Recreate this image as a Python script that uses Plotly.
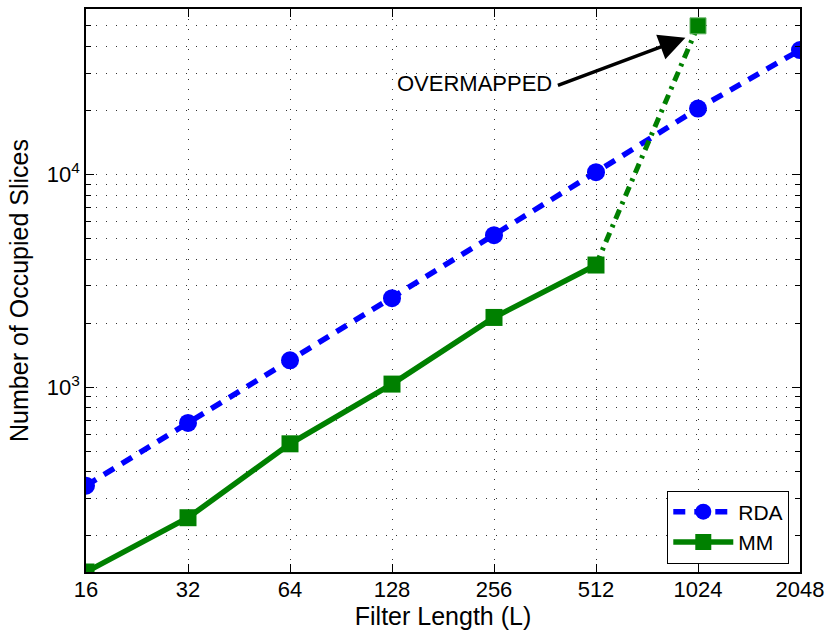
import plotly.graph_objects as go
import math

# ---- data ----
filter_len = [16, 32, 64, 128, 256, 512, 1024, 2048]
rda_slices = [344, 678, 1337, 2618, 5183, 10250, 20420, 38460]
mm_len = [16, 32, 64, 128, 256, 512]
mm_slices = [135, 243, 541, 1033, 2126, 3750]
mm_over_len = [512, 1024]
mm_over_slices = [3750, 50000]
x_ticks = [16, 32, 64, 128, 256, 512, 1024, 2048]
y_major = [1000, 10000]
y_major_text = ["10<sup>3</sup>", "10<sup>4</sup>"]
y_minor = [200, 300, 400, 500, 600, 700, 800, 900,
           2000, 3000, 4000, 5000, 6000, 7000, 8000, 9000,
           20000, 30000, 40000, 50000]

FONT = "Liberation Sans, Arial, Helvetica, sans-serif"
BLUE = "#0000FF"
GREEN = "#008000"

fig = go.Figure()

fig.add_trace(go.Scatter(
    x=filter_len, y=rda_slices, name="RDA", mode="lines+markers",
    line=dict(color=BLUE, width=5.5, dash="12px,9px"),
    marker=dict(symbol="circle", size=18, color=BLUE, line=dict(width=0)),
))
fig.add_trace(go.Scatter(
    x=mm_len, y=mm_slices, name="MM", mode="lines+markers",
    line=dict(color=GREEN, width=5.5),
    marker=dict(symbol="square", size=17, color=GREEN, line=dict(width=0)),
))
fig.add_trace(go.Scatter(
    x=mm_over_len, y=mm_over_slices, showlegend=False, mode="lines",
    line=dict(color=GREEN, width=5, dash="10px,6px,3px,6px"),
))
fig.add_trace(go.Scatter(
    x=mm_over_len[1:], y=mm_over_slices[1:], showlegend=False, mode="markers",
    marker=dict(symbol="square", size=16, color=GREEN,
                line=dict(width=1, color="#66b366")),
))

grid_dash = "1px,9px"
grid_col = "#333333"

fig.update_xaxes(
    type="log", range=[math.log10(16), math.log10(2048)],
    tickmode="array", tickvals=x_ticks, ticktext=[str(v) for v in x_ticks],
    ticks="inside", ticklen=8, tickwidth=1, tickcolor="black",
    showline=True, linecolor="black", linewidth=1.5, mirror="allticks",
    showgrid=True, gridcolor=grid_col, gridwidth=1, griddash=grid_dash,
    tickfont=dict(family=FONT, size=22, color="black"),
    title=dict(text="Filter Length (L)", font=dict(family=FONT, size=25, color="black"),
               standoff=6),
    ticklabelstandoff=-3,
    zeroline=False,
)
fig.update_yaxes(
    type="log", range=[math.log10(135), math.log10(60000)],
    tickmode="array", tickvals=y_major, ticktext=y_major_text,
    ticks="inside", ticklen=8, tickwidth=1, tickcolor="black",
    showline=True, linecolor="black", linewidth=1.5, mirror="allticks",
    showgrid=True, gridcolor=grid_col, gridwidth=1, griddash=grid_dash,
    minor=dict(tickmode="array", tickvals=y_minor, ticks="inside", ticklen=5,
               tickcolor="black", showgrid=True, gridcolor=grid_col,
               gridwidth=1, griddash=grid_dash),
    tickfont=dict(family=FONT, size=22, color="black"),
    title=dict(text="Number of Occupied Slices", font=dict(family=FONT, size=25, color="black"),
               standoff=11),
    zeroline=False,
)

# arrow
fig.add_annotation(
    x=math.log10(940), y=math.log10(43900), xref="x", yref="y",
    ax=-129, ay=48, axref="pixel", ayref="pixel",
    text="", showarrow=True, arrowhead=2, arrowsize=1.5, arrowwidth=3.5,
    arrowcolor="black",
)
fig.add_annotation(
    x=math.log10(224), y=math.log10(26700), xref="x", yref="y",
    text="OVERMAPPED", showarrow=False,
    font=dict(family=FONT, size=22, color="black"),
)

fig.update_layout(
    width=831, height=639,
    margin=dict(l=86, r=30, t=7, b=67),
    paper_bgcolor="white", plot_bgcolor="white",
    font=dict(family=FONT, color="black"),
    legend=dict(
        x=0.985, y=0.015, xanchor="right", yanchor="bottom",
        bgcolor="white", bordercolor="black", borderwidth=1,
        font=dict(family=FONT, size=21, color="black"),
        itemwidth=60, tracegroupgap=0,
    ),
)

fig.write_html("out.html")
